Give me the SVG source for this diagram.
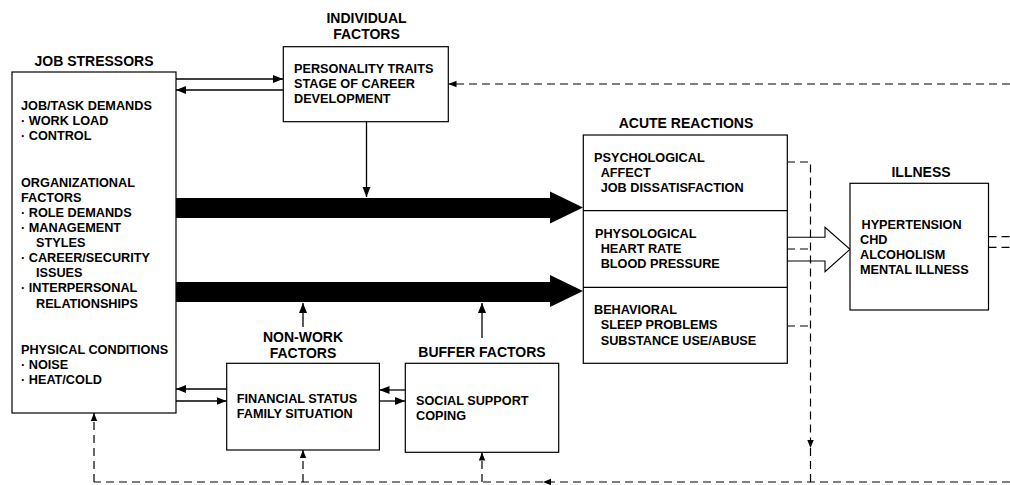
<svg xmlns="http://www.w3.org/2000/svg" width="1010" height="485" viewBox="0 0 1010 485">
<defs>
<style>
text{font-family:"Liberation Sans",Arial,sans-serif;font-weight:bold;fill:#000}
.t{font-size:14px;text-anchor:middle}
.b{font-size:12.7px}
.box{fill:#fff;stroke:#000;stroke-width:1.2}
.ln{fill:none;stroke:#000;stroke-width:1.3}
.ds{fill:none;stroke:#000;stroke-width:1.2;stroke-dasharray:8,5}
.big{fill:#000;stroke:none}
.hollow{fill:none;stroke:#000;stroke-width:1.1}
</style>
<marker id="ah" markerUnits="userSpaceOnUse" markerWidth="10" markerHeight="10" viewBox="0 0 10 10" refX="10" refY="5" orient="auto">
<path d="M0,1 L10,5 L0,9 Z" fill="#000"/>
</marker>
<marker id="ahs" markerUnits="userSpaceOnUse" markerWidth="8" markerHeight="8" viewBox="0 0 10 10" refX="10" refY="5" orient="auto">
<path d="M0,1 L10,5 L0,9 Z" fill="#000"/>
</marker>
</defs>
<rect width="1010" height="485" fill="#fff"/>

<g id="connectors">
<polygon class="big" points="176,198 550,198 550,191.5 583,207.5 550,223.5 550,218 176,218"/>
<polygon class="big" points="176,282 550,282 550,275 583,291 550,307 550,302 176,302"/>
<polygon class="hollow" points="787,237.3 825,237.3 825,227.3 850,249.3 825,271.7 825,261 787,261"/>
<line class="ln" x1="176" y1="79" x2="283" y2="79" marker-end="url(#ah)"/>
<line class="ln" x1="283" y1="90" x2="176" y2="90" marker-end="url(#ah)"/>
<line class="ln" x1="366.5" y1="122" x2="366.5" y2="197" marker-end="url(#ah)"/>
<line class="ln" x1="303" y1="327" x2="303" y2="303" marker-end="url(#ah)"/>
<line class="ln" x1="482" y1="338" x2="482" y2="303" marker-end="url(#ah)"/>
<line class="ln" x1="226.5" y1="389" x2="176" y2="389" marker-end="url(#ah)"/>
<line class="ln" x1="176" y1="401" x2="226.5" y2="401" marker-end="url(#ah)"/>
<line class="ln" x1="405" y1="390" x2="379.5" y2="390" marker-end="url(#ah)"/>
<line class="ln" x1="379.5" y1="401" x2="405" y2="401" marker-end="url(#ah)"/>
<line class="ds" x1="1010" y1="84" x2="448.5" y2="84" marker-end="url(#ahs)"/>
<polyline class="ds" points="787,162 810.5,162 810.5,448" marker-end="url(#ahs)"/>
<line class="ds" x1="810.5" y1="448" x2="810.5" y2="482"/>
<line class="ds" x1="787" y1="249" x2="810.5" y2="249"/>
<line class="ds" x1="787" y1="326" x2="810.5" y2="326"/>
<line class="ds" x1="1010" y1="482" x2="543" y2="482" marker-end="url(#ahs)"/>
<line class="ds" x1="543" y1="482" x2="94" y2="482"/>
<line class="ds" x1="94" y1="482" x2="94" y2="413" marker-end="url(#ahs)"/>
<line class="ds" x1="303" y1="482" x2="303" y2="450" marker-end="url(#ahs)"/>
<line class="ds" x1="482" y1="482" x2="482" y2="452.5" marker-end="url(#ahs)"/>
<line class="ds" x1="988.5" y1="236.7" x2="1010" y2="236.7"/>
<line class="ds" x1="988.5" y1="247.3" x2="1010" y2="247.3"/>
</g>

<g id="job-stressors">
<text class="t" x="94" y="65.5">JOB STRESSORS</text>
<rect class="box" x="12" y="72" width="164" height="341"/>
<text class="b" x="21" y="110">JOB/TASK DEMANDS</text>
<text class="b" x="21" y="125">· WORK LOAD</text>
<text class="b" x="21" y="140">· CONTROL</text>
<text class="b" x="21" y="186.5">ORGANIZATIONAL</text>
<text class="b" x="21" y="201.5">FACTORS</text>
<text class="b" x="21" y="216.5">· ROLE DEMANDS</text>
<text class="b" x="21" y="231.5">· MANAGEMENT</text>
<text class="b" x="36" y="247">STYLES</text>
<text class="b" x="21" y="262">· CAREER/SECURITY</text>
<text class="b" x="36" y="277">ISSUES</text>
<text class="b" x="21" y="292">· INTERPERSONAL</text>
<text class="b" x="36" y="307.5">RELATIONSHIPS</text>
<text class="b" x="21" y="354">PHYSICAL CONDITIONS</text>
<text class="b" x="21" y="369">· NOISE</text>
<text class="b" x="21" y="384">· HEAT/COLD</text>
</g>

<g id="individual-factors">
<text class="t" x="366.5" y="23.3">INDIVIDUAL</text>
<text class="t" x="366.5" y="39.3">FACTORS</text>
<rect class="box" x="283.3" y="46.7" width="165" height="75"/>
<text class="b" x="294" y="73.3">PERSONALITY TRAITS</text>
<text class="b" x="294" y="88.3">STAGE OF CAREER</text>
<text class="b" x="294" y="103.3">DEVELOPMENT</text>
</g>

<g id="acute-reactions">
<text class="t" x="686" y="127.5">ACUTE REACTIONS</text>
<rect class="box" x="583.3" y="135" width="204" height="228.3"/>
<line class="ln" x1="583.3" y1="210.7" x2="787.3" y2="210.7"/>
<line class="ln" x1="583.3" y1="287.3" x2="787.3" y2="287.3"/>
<text class="b" x="594" y="161.7">PSYCHOLOGICAL</text>
<text class="b" x="600.7" y="176.5">AFFECT</text>
<text class="b" x="600.7" y="191.7">JOB DISSATISFACTION</text>
<text class="b" x="595" y="238.3">PHYSOLOGICAL</text>
<text class="b" x="600.7" y="253.3">HEART RATE</text>
<text class="b" x="600.7" y="268.3">BLOOD PRESSURE</text>
<text class="b" x="594" y="314">BEHAVIORAL</text>
<text class="b" x="600.7" y="329">SLEEP PROBLEMS</text>
<text class="b" x="600.7" y="344.5">SUBSTANCE USE/ABUSE</text>
</g>

<g id="illness">
<text class="t" x="921" y="177">ILLNESS</text>
<rect class="box" x="850" y="183.3" width="138.5" height="126.7"/>
<text class="b" x="861.5" y="229.3">HYPERTENSION</text>
<text class="b" x="860" y="244">CHD</text>
<text class="b" x="860" y="259.3">ALCOHOLISM</text>
<text class="b" x="860" y="274.3">MENTAL ILLNESS</text>
</g>

<g id="non-work-factors">
<text class="t" x="303" y="341.7">NON-WORK</text>
<text class="t" x="303" y="358.3">FACTORS</text>
<rect class="box" x="226.7" y="363.3" width="152.7" height="86.7"/>
<text class="b" x="236.7" y="402.7">FINANCIAL STATUS</text>
<text class="b" x="236.7" y="418.3">FAMILY SITUATION</text>
</g>

<g id="buffer-factors">
<text class="t" x="482" y="357.3">BUFFER FACTORS</text>
<rect class="box" x="405.3" y="363.3" width="153.4" height="89"/>
<text class="b" x="416" y="405">SOCIAL SUPPORT</text>
<text class="b" x="416" y="420">COPING</text>
</g>
</svg>
